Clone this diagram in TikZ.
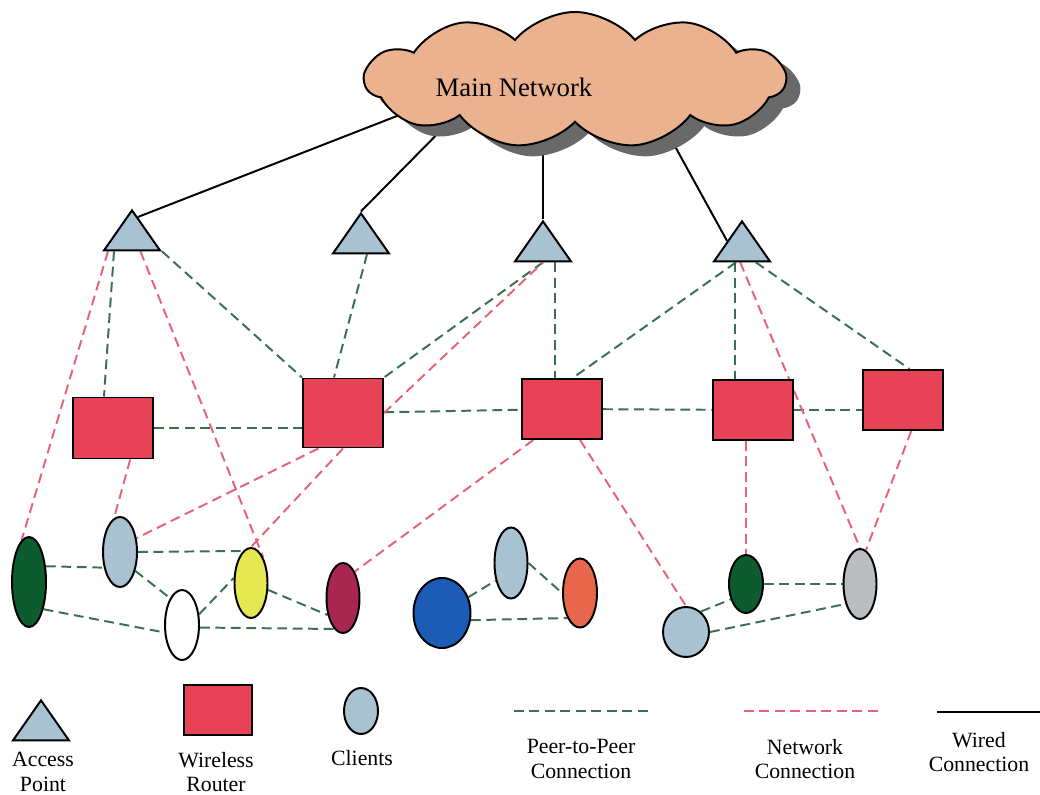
\documentclass[tikz,border=0pt]{standalone}
\usepackage{fontspec}
\setmainfont{Liberation Serif}
\usepackage{xcolor}
\usepackage{tikz}
\usetikzlibrary{calc, shapes.geometric, shapes.symbols, backgrounds}

\definecolor{cloudfill}{RGB}{234,178,142}
\definecolor{cloudshade}{RGB}{105,105,105}
\definecolor{apblue}{RGB}{168,194,210}
\definecolor{routerred}{RGB}{232,66,86}
\definecolor{ptpgreen}{RGB}{58,112,82}
\definecolor{netred}{RGB}{234,98,122}
\definecolor{cdarkgreen}{RGB}{12,92,48}
\definecolor{cyellow}{RGB}{230,232,82}
\definecolor{ccrimson}{RGB}{168,38,80}
\definecolor{cblue}{RGB}{28,92,182}
\definecolor{corange}{RGB}{232,102,76}
\definecolor{cgray}{RGB}{186,189,191}

\begin{document}
\begin{tikzpicture}[x=0.025cm, y=-0.025cm,
    ap/.style={regular polygon, regular polygon sides=3, minimum size=1.333cm,
        inner sep=0pt, xscale=1.21, transform shape, draw, line width=1.4pt, fill=apblue},
    router/.style={rectangle, draw, line width=1.4pt, fill=routerred,
        minimum width=2cm, minimum height=1.5cm, inner sep=0pt},
    client/.style={ellipse, draw, line width=1.4pt, inner sep=0pt},
    cloudnode/.style={cloud, cloud puffs=11, cloud puff arc=100, cloud ignores aspect,
        minimum width=10.5cm, minimum height=3.4cm, inner sep=0pt},
    ptp/.style={ptpgreen, line width=1.4pt, dash pattern=on 7pt off 4pt},
    net/.style={netred, line width=1.4pt, dash pattern=on 7pt off 4pt},
    wired/.style={black, line width=1.4pt},
    lbl/.style={align=center, font=\fontsize{15.5}{17.5}\selectfont}]
    \useasboundingbox (0,0) rectangle (1040,795);

    % 1. Main network cloud
    \node[cloudnode, fill=cloudshade] (cloudshadow) at (589,91) {};
    \node[cloudnode, draw, line width=1.4pt, fill=cloudfill] (cloud) at (575,80) {};
    \node[font=\fontsize{19}{22}\selectfont] (mainlbl) at (514,87) {Main Network};

    % 2. Access points and routers
    \node[ap] (ap1) at (132,237) {};
    \node[ap] (ap2) at (361,240) {};
    \node[ap] (ap3) at (543,248) {};
    \node[ap] (ap4) at (742,248) {};

    \node[router, minimum height=1.525cm] (r1) at (113,428) {};
    \node[router, minimum height=1.725cm] (r2) at (343,413) {};
    \node[router] (r3) at (562,409) {};
    \node[router] (r4) at (753,410) {};
    \node[router] (r5) at (903,400) {};

    % 3. Clients
    \foreach \n/\x/\y/\w/\h/\c in {c1/29/582/0.85/2.25/cdarkgreen,
        c2/120/552/0.85/1.75/apblue, c3/182/625/0.85/1.75/white,
        c4/251/583/0.825/1.75/cyellow, c5/343/598/0.825/1.75/ccrimson,
        c6/442/613/1.425/1.75/cblue, c7/511/563/0.825/1.775/apblue,
        c8/580/593/0.85/1.725/corange, c9/686/632/1.15/1.25/apblue,
        c10/746/584/0.85/1.45/cdarkgreen, c11/860/584/0.825/1.75/cgray} {
        \node[client, fill=\c, minimum width=\w cm, minimum height=\h cm] (\n) at (\x,\y) {};
    }

    % 4. Connections
    \coordinate (w1) at (420,107);
    \coordinate (w2) at (460,111);
    \coordinate (w4) at (655,110);
    \begin{pgfonlayer}{background}
        \draw[wired] (w1) -- ($(ap1.corner 1)!.2!(ap1.corner 3)$);
        \draw[wired] (w2) -- (ap2.corner 1);
        \draw[wired] (ap3.corner 1 |- cloud.center) -- (ap3.corner 1);
        \draw[wired] (w4) -- (ap4.side 1);

        \path ($(ap3.corner 2)!.7!(ap3.corner 3)$) coordinate (ap3b);
        \path ($(ap4.corner 2)!.38!(ap4.corner 3)$) coordinate (ap4b);
        \draw[ptp] ($(ap1.corner 2)!.2!(ap1.corner 3)$) -- ($(r1.north west)!.39!(r1.north east)$);
        \draw[ptp] (ap1.corner 3) -- (r2.north west);
        \draw[ptp] ($(ap2.corner 2)!.6!(ap2.corner 3)$) -- ($(r2.north west)!.39!(r2.north east)$);
        \draw[ptp] (ap3.side 2) -- (r2.north east);
        \draw[ptp] (ap3b) -- (ap3b |- r3.north);
        \draw[ptp] ($(ap4.corner 2)!.4!(ap4.corner 3)$) -- ($(r3.north west)!.63!(r3.north east)$);
        \draw[ptp] (ap4b) -- (ap4b |- r4.north);
        \draw[ptp] ($(ap4.corner 2)!.73!(ap4.corner 3)$) -- ($(r5.north west)!.58!(r5.north east)$);
        \draw[ptp] (r1.east) -- (r1.east -| r2.west);
        \draw[ptp] (r2) -- (r3);
        \draw[ptp] (r3) -- (r4);
        \draw[ptp] (r4.east) -- (r4.east -| r5.west);
        \foreach \a/\b in {c1.43/c2.224, c1.-62/c3.203, c2.east/c4.104, c2.-51/c3.114,
            c3.32/c4.164, c3.-8/c5.254, c4.-22/c5.228, c6.31/c7.229, c6.-14/c8.243,
            c7.east/c8.west, c9.54/c10.225, c9.east/c11.234, c10.east/c11.west} {
            \draw[ptp] (\a) -- (\b);
        }

        \draw[net] ($(ap1.corner 2)!.1!(ap1.corner 3)$) -- (c1.100);
        \draw[net] ($(ap1.corner 2)!.64!(ap1.corner 3)$) -- (c4.65);
        \draw[net] ($(r1.south west)!.71!(r1.south east)$) -- (c2.100);
        \draw[net] ($(r2.south west)!.2!(r2.south east)$) -- (c2.40);
        \draw[net] (r2.south) -- (c4.north);
        \draw[net] (r2.east) -- (ap3.side 2);
        \draw[net] ($(r3.south west)!.15!(r3.south east)$) -- (c5.66);
        \draw[net] ($(r3.south west)!.72!(r3.south east)$) -- (c9.north);
        \draw[net] (c10.north |- r4.south) -- (c10.north);
        \draw[net] ($(ap4.corner 2)!.47!(ap4.corner 3)$) -- (c11.north);
        \draw[net] ($(r5.south west)!.6!(r5.south east)$) -- (c11.80);
    \end{pgfonlayer}

    % 5. Legend
    \node[ap] (lap) at (41,727) {};
    \node[lbl] (laptxt) at (43,772) {Access\\Point};
    \node[router, minimum width=1.7cm, minimum height=1.25cm] (lrt) at (218,710) {};
    \node[lbl] (lrttxt) at (216,772) {Wireless\\Router};
    \node[client, fill=apblue, minimum width=0.85cm, minimum height=1.15cm] (lcl) at (361,711) {};
    \node[lbl] (lcltxt) at (362,758) {Clients};
    \coordinate (lptpa) at (514,711);
    \coordinate (lptpb) at (649,711);
    \draw[ptp] (lptpa) -- (lptpb);
    \node[lbl] (lptptxt) at (581,759) {Peer-to-Peer\\Connection};
    \coordinate (lneta) at (744,711);
    \coordinate (lnetb) at (880,711);
    \draw[net] (lneta) -- (lnetb);
    \node[lbl] (lnettxt) at (805,759) {Network\\Connection};
    \coordinate (lwa) at (937,712);
    \coordinate (lwb) at (1040,712);
    \draw[wired] (lwa) -- (lwb);
    \node[lbl] (lwtxt) at (979,752) {Wired\\Connection};
\end{tikzpicture}
\end{document}
